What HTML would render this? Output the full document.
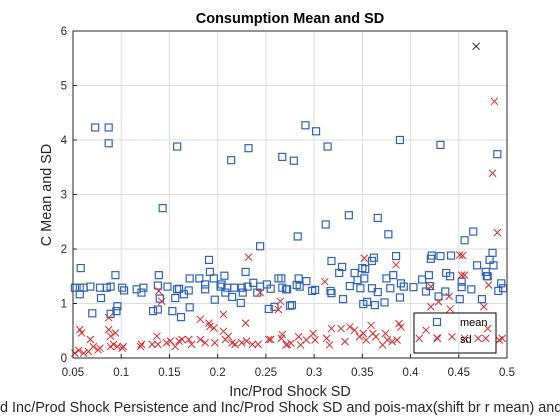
<!DOCTYPE html>
<html><head><meta charset="utf-8"><style>
html,body{margin:0;padding:0;background:#fff;}
svg{display:block;font-family:"Liberation Sans",sans-serif;}
</style></head><body>
<svg id="chart" width="560" height="420" viewBox="0 0 560 420">
<rect width="560" height="420" fill="#fff"/>
<g id="grid"></g>
<g id="marks"></g>
<rect x="73" y="31" width="434" height="327" fill="none" stroke="#262626" stroke-width="1"/>
<g id="ticks"></g>
<text x="290" y="23" text-anchor="middle" font-size="14.5" font-weight="bold" fill="#000">Consumption Mean and SD</text>
<text x="290" y="396" text-anchor="middle" font-size="14.4" fill="#262626">Inc/Prod Shock SD</text>
<text x="0" y="412" font-size="14.4" fill="#262626">d Inc/Prod Shock Persistence and Inc/Prod Shock SD and pois-max(shift br r mean) and</text>
<text transform="translate(51,195) rotate(-90)" text-anchor="middle" font-size="14.4" fill="#262626">C Mean and SD</text>
<g>
<rect x="414" y="313" width="82" height="40" fill="none" stroke="#000" stroke-width="1"/>
<rect x="433.5" y="318.5" width="7" height="7" fill="none" stroke="#2f63b8" stroke-width="1.2"/>
<text x="460" y="326" font-size="11" fill="#000">mean</text>
<path d="M433.5 334.5 L440.5 341.5 M440.5 334.5 L433.5 341.5" stroke="#d9282a" stroke-width="1"/>
<text x="460" y="343" font-size="11" fill="#000">sd</text>
</g>
</svg>
<script>
const xTicks=[0.05,0.1,0.15,0.2,0.25,0.3,0.35,0.4,0.45,0.5];
const xTickLabels=["0.05","0.1","0.15","0.2","0.25","0.3","0.35","0.4","0.45","0.5"];
const yTicks=[0,1,2,3,4,5,6];
const yTickLabels=["0","1","2","3","4","5","6"];
const meanX=[0.073,0.087,0.087,0.143,0.158,0.214,0.232,0.244,0.267,0.279,0.283,0.291,0.302,0.312,0.314,0.336,0.366,0.377,0.389,0.431,0.456,0.465,0.490,0.485,0.469,0.482,0.486,0.058,0.094,0.139,0.191,0.192,0.207,0.229,0.318,0.329,0.326,0.342,0.350,0.353,0.360,0.362,0.385,0.382,0.419,0.421,0.422,0.431,0.442,0.437,0.441,0.478,0.479,
0.052,0.057,0.057,0.061,0.068,0.070,0.078,0.079,0.085,0.089,0.096,0.095,0.089,0.101,0.103,0.116,0.121,0.123,0.133,0.138,0.138,0.140,0.148,0.153,0.156,0.158,0.160,0.162,0.165,0.170,0.171,0.171,0.181,0.187,0.187,0.196,0.197,0.203,0.204,0.208,0.210,0.215,0.217,0.224,0.225,0.226,0.231,0.237,0.241,0.244,0.251,0.253,0.255,0.259,0.263,0.267,0.271,0.275,
0.266,0.272,0.284,0.282,0.285,0.292,0.277,0.298,0.301,0.317,0.318,0.330,0.337,0.345,0.348,0.352,0.351,0.355,0.363,0.360,0.366,0.373,0.375,0.379,0.389,0.390,0.393,0.403,0.412,0.416,0.420,0.429,0.436,0.451,0.453,0.453,0.463,0.474,0.480,0.491,0.494,0.496];
const meanY=[4.23,4.23,3.94,2.75,3.88,3.63,3.85,2.05,3.69,3.62,2.23,4.27,4.16,2.45,3.88,2.62,2.57,2.27,4.0,3.91,2.16,2.32,3.74,1.93,1.70,1.80,1.70,1.65,1.52,1.52,1.80,1.58,1.51,1.58,1.78,1.67,1.56,1.56,1.65,1.63,1.78,1.84,1.87,1.52,1.52,1.82,1.88,1.87,1.88,1.56,1.50,1.58,1.50,
1.29,1.29,1.17,1.29,1.31,0.82,1.29,1.10,1.29,1.31,0.95,0.86,0.81,1.29,1.24,1.26,1.20,1.29,0.86,0.89,1.33,1.09,1.31,0.86,1.10,1.26,1.27,0.75,1.17,1.24,1.46,0.93,1.46,1.35,1.26,1.46,1.07,1.31,1.35,1.20,1.29,1.12,1.29,1.01,1.29,1.20,1.31,1.38,1.20,1.31,1.35,0.90,1.27,0.94,1.46,1.29,1.26,0.96,
1.46,1.26,1.46,1.34,1.31,1.41,0.97,1.23,1.25,1.23,1.19,1.08,1.32,1.43,1.28,1.46,0.99,1.03,0.97,1.28,1.21,1.02,1.46,1.28,1.11,1.37,1.31,1.30,1.44,1.22,1.32,1.13,1.22,1.08,1.40,1.30,1.26,1.08,1.50,1.23,1.37,1.28];
const sdX=[0.487,0.485,0.490,0.232,0.352,0.385,0.454,0.456,
0.052,0.056,0.057,0.059,0.061,0.066,0.068,0.071,0.076,0.078,0.087,0.087,0.089,0.089,0.094,0.092,0.096,0.101,0.102,0.120,0.121,0.132,0.137,0.138,0.139,0.142,0.147,0.151,0.156,0.160,0.163,0.170,0.173,0.182,0.182,0.187,0.191,0.192,0.196,0.197,0.206,0.206,0.208,0.211,0.215,0.218,0.225,0.229,0.230,0.236,0.242,0.244,0.253,0.255,0.263,0.265,0.267,0.272,
0.266,0.271,0.276,0.284,0.286,0.292,0.299,0.301,0.311,0.313,0.316,0.318,0.328,0.332,0.337,0.342,0.347,0.351,0.354,0.359,0.361,0.364,0.371,0.374,0.376,0.381,0.386,0.388,0.390,0.409,0.416,0.421,0.421,0.428,0.429,0.440,0.441,0.443,0.451,0.453,0.456,0.470,0.476,0.478,0.480,0.481,0.492,0.495];
const sdY=[4.71,3.39,2.30,1.85,1.83,1.71,1.88,1.52,
0.09,0.14,0.52,0.46,0.09,0.12,0.34,0.21,0.15,0.18,0.74,0.52,0.21,0.40,0.46,0.25,0.21,0.18,0.21,0.21,0.25,0.25,0.40,0.25,1.23,1.04,0.28,0.31,0.21,0.31,0.34,0.34,0.25,0.71,0.34,0.28,0.64,0.58,0.55,0.28,0.80,0.49,0.34,0.40,0.28,0.25,0.28,0.64,0.31,0.25,0.25,1.20,0.34,0.34,0.89,1.04,0.43,0.25,
0.36,0.24,0.27,0.39,0.24,0.33,0.45,0.33,1.40,0.36,0.24,0.54,0.54,0.30,0.57,0.51,0.39,0.45,0.33,0.60,0.45,0.39,0.24,0.45,0.33,0.30,0.33,0.63,0.57,0.36,0.51,1.31,0.94,0.36,1.03,1.13,0.90,0.39,1.89,1.52,0.36,0.36,0.94,0.36,0.54,1.34,0.33,0.36];
const otherX=[0.468];
const otherY=[5.72];

const NS="http://www.w3.org/2000/svg";
const L=73,R=507,T=31,B=358;
function sx(v){return L+(v-0.05)/(0.5-0.05)*(R-L);}
function sy(v){return B-(v-0)/(6-0)*(B-T);}
function mk(tag,attrs,parent){const e=document.createElementNS(NS,tag);for(const k in attrs)e.setAttribute(k,attrs[k]);parent.appendChild(e);return e;}
const grid=document.getElementById('grid'),ticks=document.getElementById('ticks'),marks=document.getElementById('marks');
xTicks.forEach((t,i)=>{
  const x=sx(t);
  const g=mk('line',{x1:x,x2:x,y1:T,y2:B,stroke:'#dfdfdf','stroke-width':1},grid);
  
  
  const tk=mk('line',{x1:x,x2:x,y1:B,y2:B-4,stroke:'#262626','stroke-width':1},ticks);
  
  
  const lb=mk('text',{x:x,y:B+18,'text-anchor':'middle','font-size':11.5,fill:'#262626'},ticks);
  lb.textContent=xTickLabels[i];
  
  
});
yTicks.forEach((t,i)=>{
  const y=sy(t);
  const g=mk('line',{x1:L,x2:R,y1:y,y2:y,stroke:'#dfdfdf','stroke-width':1},grid);
  
  
  const tk=mk('line',{x1:L,x2:L+4,y1:y,y2:y,stroke:'#262626','stroke-width':1},ticks);
  
  
  const lb=mk('text',{x:L-6,y:y+4,'text-anchor':'end','font-size':11.5,fill:'#262626'},ticks);
  lb.textContent=yTickLabels[i];
  
  
});
meanX.forEach((v,i)=>{
  const x=sx(v),y=sy(meanY[i]);
  const r=mk('rect',{x:x-3.5,y:y-3.5,width:7,height:7,fill:'none',stroke:'#2f63b8','stroke-width':1.2},marks);
  
  
});
function cross(x,y,color,name){
  const p=mk('path',{d:`M${x-3.5} ${y-3.5} L${x+3.5} ${y+3.5} M${x+3.5} ${y-3.5} L${x-3.5} ${y+3.5}`,stroke:color,'stroke-width':1,fill:'none'},marks);
  
  
}
sdX.forEach((v,i)=>cross(sx(v),sy(sdY[i]),'#d9282a','sd-point'));
otherX.forEach((v,i)=>cross(sx(v),sy(otherY[i]),'#333333','other-point'));
</script>
</body></html>
